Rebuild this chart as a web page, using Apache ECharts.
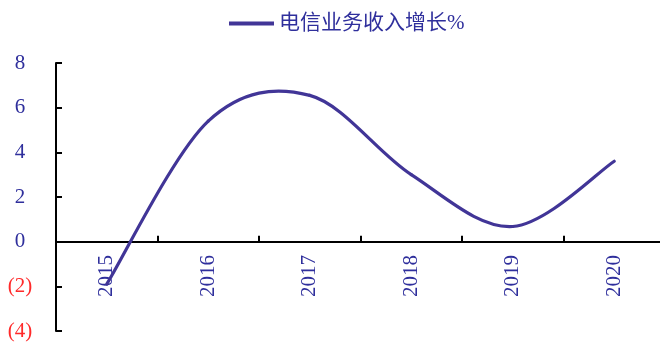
<!DOCTYPE html>
<html>
<head>
<meta charset="utf-8">
<script src="https://cdn.jsdelivr.net/npm/echarts@6/dist/echarts.min.js"></script>
<style>
  html, body { margin: 0; padding: 0; background: #fff; }
  #chart { width: 660px; height: 345px; }
</style>
</head>
<body>
<div id="chart"></div>
<script>
// Telecom business revenue growth, % per year
const years = ['2015', '2016', '2017', '2018', '2019', '2020'];
const revenueGrowth = [-1.9, 5.4, 6.55, 3.0, 0.68, 3.6];
const seriesName = '电信业务收入增长%';
const yTicks = { min: -4, max: 8, interval: 2 };

const navy = '#2f2f9c';
const lineColor = '#413597';
const serif = '"Liberation Serif", "Noto Sans CJK SC", serif';

// Cardinal-spline segment between point i and i+1 (tension 1/6),
// with control points taken from the neighbouring data points in pixel space.
function splineSegment(params, api) {
  const i = params.dataIndex;
  const n = revenueGrowth.length;
  if (i >= n - 1) return null;
  const pt = k => {
    const j = Math.max(0, Math.min(n - 1, k));
    return api.coord([j, revenueGrowth[j]]);
  };
  const p0 = pt(i - 1), p1 = pt(i), p2 = pt(i + 1), p3 = pt(i + 2);
  return {
    type: 'bezierCurve',
    shape: {
      x1: p1[0], y1: p1[1],
      x2: p2[0], y2: p2[1],
      cpx1: p1[0] + (p2[0] - p0[0]) / 6, cpy1: p1[1] + (p2[1] - p0[1]) / 6,
      cpx2: p2[0] - (p3[0] - p1[0]) / 6, cpy2: p2[1] - (p3[1] - p1[1]) / 6
    },
    style: { stroke: lineColor, lineWidth: 3.2, fill: null, lineCap: 'round' }
  };
}

const chart = echarts.init(document.getElementById('chart'), null, { renderer: 'canvas' });

chart.setOption({
  animation: false,
  backgroundColor: '#fff',
  legend: {
    left: 224,
    top: 8,
    itemWidth: 45,
    itemHeight: 12,
    itemGap: 10,
    textStyle: { fontFamily: serif, fontSize: 21, color: navy },
    data: [{ name: seriesName, icon: 'path://M0,0 L45,0 L45,4 L0,4 Z', itemStyle: { color: lineColor } }]
  },
  grid: { left: 56, top: 63, width: 609, height: 268, containLabel: false, outerBoundsMode: 'none' },
  xAxis: {
    type: 'category',
    data: years,
    boundaryGap: true,
    axisLine: { onZero: true, lineStyle: { color: '#000', width: 2 } },
    axisTick: { show: true, inside: true, length: 6, alignWithLabel: false, lineStyle: { color: '#000', width: 2 } },
    axisLabel: {
      rotate: 90,
      // labels sit just under the zero line rather than the grid's bottom edge
      margin: -76,
      fontFamily: serif,
      fontSize: 21,
      color: navy
    },
    splitLine: { show: false }
  },
  yAxis: {
    type: 'value',
    min: yTicks.min,
    max: yTicks.max,
    interval: yTicks.interval,
    axisLine: { show: true, lineStyle: { color: '#000', width: 2 } },
    axisTick: { show: true, inside: true, length: 6, lineStyle: { color: '#000', width: 2 } },
    splitLine: { show: false },
    axisLabel: {
      align: 'center',
      margin: 36,
      fontFamily: serif,
      fontSize: 21,
      color: function (v) { return v < 0 ? '#ff2a2a' : navy; },
      formatter: function (v) { return v < 0 ? '(' + Math.abs(v) + ')' : String(v); }
    }
  },
  series: [{
    name: seriesName,
    type: 'custom',
    data: revenueGrowth.map((v, i) => [i, v]),
    encode: { x: 0, y: 1 },
    renderItem: splineSegment,
    itemStyle: { color: lineColor }
  }]
});
</script>
</body>
</html>
